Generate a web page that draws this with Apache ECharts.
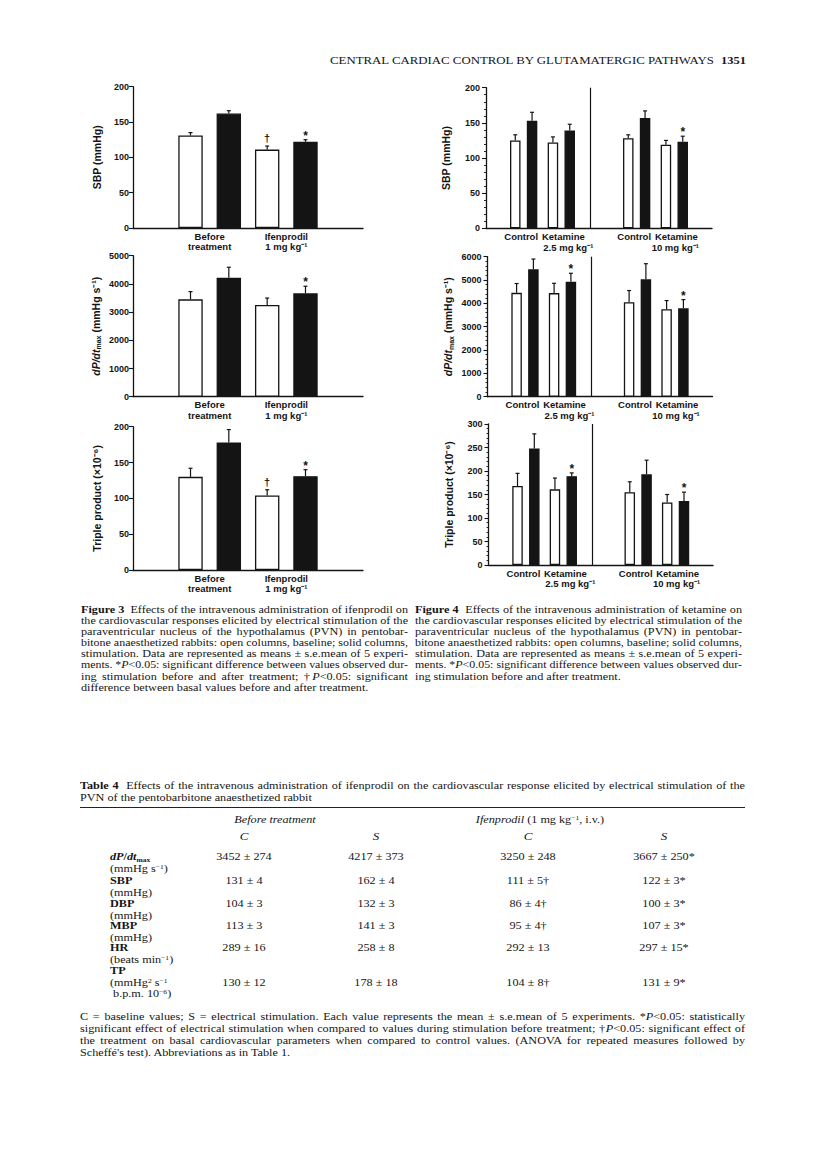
<!DOCTYPE html>
<html><head><meta charset="utf-8">
<script src="https://cdn.jsdelivr.net/npm/echarts/dist/echarts.min.js"></script>
<style>
html,body{margin:0;padding:0;background:#fff;}
#page{position:relative;width:816px;height:1171px;overflow:hidden;background:#fff;font-family:"Liberation Serif","DejaVu Serif",serif;color:#151515;}
#chart{position:absolute;left:0;top:0;width:816px;height:1171px;}
.t{position:absolute;white-space:nowrap;}
.j{position:absolute;white-space:normal;text-align:justify;text-align-last:justify;}
sup.s,sub.s{font-size:0.62em;line-height:0;}
sup.s{vertical-align:0.5em;}
sub.s{vertical-align:-0.2em;}
</style></head>
<body><div id="page"><div id="chart"></div></div>
<script>
// ---------------- DATA ----------------
const fig3Groups = ['Before\ntreatment', 'Ifenprodil\n1 mg kg⁻¹'];
const fig3SbpBase = [131, 111], fig3SbpBaseSem = [4, 5], fig3SbpBaseMark = ['', '†'];
const fig3SbpStim = [162, 122], fig3SbpStimSem = [4, 3], fig3SbpStimMark = ['', '*'];
const fig3DpdtBase = [3452, 3250], fig3DpdtBaseSem = [274, 248], fig3DpdtBaseMark = ['', ''];
const fig3DpdtStim = [4217, 3667], fig3DpdtStimSem = [373, 250], fig3DpdtStimMark = ['', '*'];
const fig3TpBase = [130, 104], fig3TpBaseSem = [12, 8], fig3TpBaseMark = ['', '†'];
const fig3TpStim = [178, 131], fig3TpStimSem = [18, 9], fig3TpStimMark = ['', '*'];

const fig4Groups = ['Control', 'Ketamine\n2.5 mg kg⁻¹', 'Control', 'Ketamine\n10 mg kg⁻¹'];
const fig4SbpBase = [125, 122, 128, 119], fig4SbpBaseSem = [8, 8, 5, 6], fig4SbpBaseMark = ['', '', '', ''];
const fig4SbpStim = [153, 139, 157, 123], fig4SbpStimSem = [12, 9, 10, 8], fig4SbpStimMark = ['', '', '', '*'];
const fig4DpdtBase = [4450, 4440, 4050, 3750], fig4DpdtBaseSem = [400, 420, 500, 370], fig4DpdtBaseMark = ['', '', '', ''];
const fig4DpdtStim = [5460, 4930, 5030, 3790], fig4DpdtStimSem = [440, 360, 670, 370], fig4DpdtStimMark = ['', '*', '', '*'];
const fig4TpBase = [168, 161, 155, 133], fig4TpBaseSem = [27, 24, 22, 17], fig4TpBaseMark = ['', '', '', ''];
const fig4TpStim = [248, 189, 193, 136], fig4TpStimSem = [31, 7, 30, 19], fig4TpStimMark = ['', '*', '', '*'];

// Table 4 (ifenprodil): DBP, MBP, HR rows [mean, sem, mark] for C, S, C, S
const tableDbp = [[104, 3, ''], [132, 3, ''], [86, 4, '†'], [100, 3, '*']];
const tableMbp = [[113, 3, ''], [141, 3, ''], [95, 4, '†'], [107, 3, '*']];
const tableHr = [[289, 16, ''], [258, 8, ''], [292, 13, ''], [297, 15, '*']];

// ---------------- CHARTS ----------------
const SANS = '"Liberation Sans", Arial, Helvetica, sans-serif';
const INK = '#141414';
const grids = [], xAxes = [], yAxes = [], series = [];
const lblBase = {fontFamily: SANS, fontWeight: 'bold', fontSize: 9.5, lineHeight: 10.5, color: INK};

function addPanel(cfg) {
  const gi = grids.length;
  grids.push(Object.assign({containLabel: false, outerBoundsMode: 'none'}, cfg.grid));
  const cats = [''], baseD = ['-'], stimD = ['-'], idx = [];
  cfg.groups.forEach((g, i) => {
    if (cfg.divider && i === cfg.groups.length / 2) { cats.push(''); baseD.push('-'); stimD.push('-'); }
    idx.push(cats.length);
    cats.push(g); baseD.push(cfg.base[i]); stimD.push(cfg.stim[i]);
  });
  cats.push(''); baseD.push('-'); stimD.push('-');
  const dividerPos = cfg.divider ? (cats.length - 1) / 2 : null;

  const axisLabel = {interval: 0, color: INK, fontFamily: SANS, fontWeight: 'bold', fontSize: 9.5, lineHeight: 10.5, margin: 3};
  if (cfg.divider) {
    axisLabel.formatter = function (v, i) {
      if (!v) return '';
      if (v.indexOf('\n') < 0) return '{c|' + v + '}';
      const p = v.split('\n');
      return '{k|' + p[0] + '}\n' + (i < dividerPos ? '{d|' : '{e|') + p[1] + '}';
    };
    axisLabel.rich = {
      c: Object.assign({}, lblBase, {padding: [0, 5, 0, 0]}),
      k: Object.assign({}, lblBase, {padding: [0, 0, 0, 4]}),
      d: Object.assign({}, lblBase, {padding: [0, 0, 0, 14]}),
      e: Object.assign({}, lblBase, {padding: [0, 0, 0, 2]})
    };
  }
  xAxes.push({
    gridIndex: gi, type: 'category', data: cats, boundaryGap: false,
    axisLine: {show: true, lineStyle: {color: INK, width: 1.3}},
    axisTick: {show: false}, splitLine: {show: false}, axisLabel: axisLabel
  });
  yAxes.push({
    gridIndex: gi, type: 'value', min: 0, max: cfg.max, interval: cfg.interval,
    axisLine: {show: true, lineStyle: {color: INK, width: 1.3}},
    axisTick: {show: true, length: 4, lineStyle: {color: INK, width: 1.1}},
    minorTick: {show: !!cfg.minor, splitNumber: 5, length: 2, lineStyle: {color: INK, width: 0.9}},
    splitLine: {show: false},
    axisLabel: {color: INK, fontFamily: SANS, fontWeight: 'bold', fontSize: 9, margin: cfg.labelMargin || 4,
      formatter: v => String(v)},
    name: cfg.name, nameLocation: 'middle', nameRotate: 90, nameGap: cfg.nameGap,
    nameTextStyle: {color: INK, fontFamily: SANS, fontWeight: 'bold', fontSize: 10.5,
      rich: {
        i: {fontFamily: SANS, fontWeight: 'bold', fontStyle: 'italic', fontSize: 10.5, color: INK},
        s: {fontFamily: SANS, fontWeight: 'bold', fontSize: 7, color: INK, verticalAlign: 'bottom', lineHeight: 13},
        n: {fontFamily: SANS, fontWeight: 'bold', fontSize: 10.5, color: INK}
      }}
  });
  const w = cfg.barWidth, g = cfg.barGap;
  const off = w * (1 + g) / 2;
  const common = {type: 'bar', xAxisIndex: gi, yAxisIndex: gi, barWidth: w, barGap: (g * 100) + '%', animation: false, silent: true};
  const baseSeries = Object.assign({}, common, {data: baseD, itemStyle: {color: '#ffffff', borderColor: INK, borderWidth: 1.3}});
  if (dividerPos !== null) {
    baseSeries.markLine = {silent: true, symbol: ['none', 'none'], label: {show: false},
      lineStyle: {color: INK, width: 1.2, type: 'solid'}, data: [{xAxis: dividerPos}], animation: false};
  }
  series.push(baseSeries);
  series.push(Object.assign({}, common, {data: stimD, itemStyle: {color: INK, borderColor: INK, borderWidth: 1.3}}));

  const items = [];
  cfg.groups.forEach((gname, i) => {
    items.push({pos: idx[i], mean: cfg.base[i], sem: cfg.baseSem[i], off: -off, mark: cfg.baseMark[i]});
    items.push({pos: idx[i], mean: cfg.stim[i], sem: cfg.stimSem[i], off: off, mark: cfg.stimMark[i]});
  });
  series.push({
    type: 'custom', xAxisIndex: gi, yAxisIndex: gi, animation: false, silent: true, z: 5,
    data: items.map(it => [it.pos, it.mean + it.sem]),
    encode: {x: 0, y: 1},
    renderItem: function (params, api) {
      const it = items[params.dataIndex];
      const b = api.coord([it.pos, it.mean]);
      const t = api.coord([it.pos, it.mean + it.sem]);
      const x = b[0] + it.off;
      const ch = [
        {type: 'line', shape: {x1: x, y1: b[1], x2: x, y2: t[1]}, style: {stroke: INK, lineWidth: 1.2}},
        {type: 'line', shape: {x1: x - 2, y1: t[1], x2: x + 2, y2: t[1]}, style: {stroke: INK, lineWidth: 1.2}}
      ];
      if (it.mark) {
        ch.push({type: 'text', style: {text: it.mark, x: x, y: t[1] - (it.mark === '*' ? 4 : 8),
          align: 'center', verticalAlign: 'middle', fill: INK,
          font: 'bold ' + (it.mark === '*' ? 12 : 11) + 'px ' + SANS}});
      }
      return {type: 'group', children: ch};
    }
  });
}

const dpdtName = '{i|dP/dt}{s|max}{n| (mmHg s⁻¹)}';
// Figure 3
addPanel({grid: {left: 133, top: 86.7, width: 230, height: 141.3}, max: 200, interval: 50, name: 'SBP (mmHg)', nameGap: 31,
  groups: fig3Groups, base: fig3SbpBase, baseSem: fig3SbpBaseSem, baseMark: fig3SbpBaseMark,
  stim: fig3SbpStim, stimSem: fig3SbpStimSem, stimMark: fig3SbpStimMark, barWidth: 24.4, barGap: 0.57});
addPanel({grid: {left: 133, top: 255.7, width: 230, height: 141}, max: 5000, interval: 1000, name: dpdtName, nameGap: 31,
  groups: fig3Groups, base: fig3DpdtBase, baseSem: fig3DpdtBaseSem, baseMark: fig3DpdtBaseMark,
  stim: fig3DpdtStim, stimSem: fig3DpdtStimSem, stimMark: fig3DpdtStimMark, barWidth: 24.4, barGap: 0.57});
addPanel({grid: {left: 133, top: 426.7, width: 230, height: 143.3}, max: 200, interval: 50, name: 'Triple product (×10⁻⁶)', nameGap: 31,
  groups: fig3Groups, base: fig3TpBase, baseSem: fig3TpBaseSem, baseMark: fig3TpBaseMark,
  stim: fig3TpStim, stimSem: fig3TpStimSem, stimMark: fig3TpStimMark, barWidth: 24.4, barGap: 0.57});
// Figure 4
addPanel({grid: {left: 486, top: 87.7, width: 226, height: 140.6}, max: 200, interval: 50, name: 'SBP (mmHg)', nameGap: 35, minor: true, divider: true, labelMargin: 6,
  groups: fig4Groups, base: fig4SbpBase, baseSem: fig4SbpBaseSem, baseMark: fig4SbpBaseMark,
  stim: fig4SbpStim, stimSem: fig4SbpStimSem, stimMark: fig4SbpStimMark, barWidth: 10.5, barGap: 0.6});
addPanel({grid: {left: 487.5, top: 256.7, width: 225, height: 140}, max: 6000, interval: 1000, name: dpdtName, nameGap: 33, minor: true, divider: true, labelMargin: 6,
  groups: fig4Groups, base: fig4DpdtBase, baseSem: fig4DpdtBaseSem, baseMark: fig4DpdtBaseMark,
  stim: fig4DpdtStim, stimSem: fig4DpdtStimSem, stimMark: fig4DpdtStimMark, barWidth: 10.5, barGap: 0.6});
addPanel({grid: {left: 488.5, top: 424, width: 224.5, height: 141}, max: 300, interval: 50, name: 'Triple product (×10⁻⁶)', nameGap: 34, minor: true, divider: true, labelMargin: 6,
  groups: fig4Groups, base: fig4TpBase, baseSem: fig4TpBaseSem, baseMark: fig4TpBaseMark,
  stim: fig4TpStim, stimSem: fig4TpStimSem, stimMark: fig4TpStimMark, barWidth: 10.5, barGap: 0.6});

const chart = echarts.init(document.getElementById('chart'), null, {renderer: 'svg', width: 816, height: 1171});
chart.setOption({animation: false, backgroundColor: 'transparent', grid: grids, xAxis: xAxes, yAxis: yAxes, series: series});

// ---------------- TEXT (header, captions, table) ----------------
const page = document.getElementById('page');
const SY = 0.83; // the printed text is wider than it is tall
function el(html, cls, size, yc) {
  const d = document.createElement('div');
  d.className = cls;
  d.innerHTML = html;
  d.style.fontSize = size + 'px';
  d.style.lineHeight = size + 'px';
  d.style.top = (yc - 0.5 * size) + 'px';
  page.appendChild(d);
  return d;
}
function L(html, x, yc, size) { const d = el(html, 't', size, yc); d.style.left = x + 'px'; d.style.transform = 'scaleY(' + SY + ')'; return d; }
function C(html, xc, yc, size) { const d = el(html, 't', size, yc); d.style.left = xc + 'px'; d.style.transform = 'translateX(-50%) scaleY(' + SY + ')'; return d; }
function J(html, x, yc, w, size) {
  const d = el(html, 't', size, yc); d.style.left = x + 'px';
  const nat = d.getBoundingClientRect().width;
  if (nat <= w) { d.className = 'j'; d.style.width = w + 'px'; d.style.height = size + 'px'; d.style.transform = 'scaleY(' + SY + ')'; }
  else { d.style.transformOrigin = '0 50%'; d.style.transform = 'scale(' + (w / nat) + ',' + SY + ')'; }
  return d;
}
function fitW(d, w) { const nat = d.getBoundingClientRect().width; d.style.transformOrigin = '0 50%'; d.style.transform = 'scale(' + (w / nat) + ',' + SY + ')'; }

// running header
const hd = L('CENTRAL CARDIAC CONTROL BY GLUTAMATERGIC PATHWAYS', 330, 61, 12); fitW(hd, 384);
L('<b>1351</b>', 721, 61, 12.5);

// captions
const S = 12.2, capLH = 11.1;
const fig3Cap = [
  '<b>Figure 3</b>&nbsp; Effects of the intravenous administration of ifenprodil on',
  'the cardiovascular responses elicited by electrical stimulation of the',
  'paraventricular nucleus of the hypothalamus (PVN) in pentobar-',
  'bitone anaesthetized rabbits: open columns, baseline; solid columns,',
  'stimulation. Data are represented as means ± s.e.mean of 5 experi-',
  'ments. *<i>P</i>&lt;0.05: significant difference between values observed dur-',
  'ing stimulation before and after treatment; †<i>P</i>&lt;0.05: significant',
  'difference between basal values before and after treatment.'
];
const fig4Cap = [
  '<b>Figure 4</b>&nbsp; Effects of the intravenous administration of ketamine on',
  'the cardiovascular responses elicited by electrical stimulation of the',
  'paraventricular nucleus of the hypothalamus (PVN) in pentobar-',
  'bitone anaesthetized rabbits: open columns, baseline; solid columns,',
  'stimulation. Data are represented as means ± s.e.mean of 5 experi-',
  'ments. *<i>P</i>&lt;0.05: significant difference between values observed dur-',
  'ing stimulation before and after treatment.'
];
fig3Cap.forEach((s, i) => { const y = 610 + i * capLH; if (i < fig3Cap.length - 1) J(s, 81, y, 327, S); else L(s, 81, y, S); });
fig4Cap.forEach((s, i) => { const y = 610 + i * capLH; if (i < fig4Cap.length - 1) J(s, 415, y, 327, S); else L(s, 415, y, S); });

// table title
J('<b>Table 4</b>&nbsp; Effects of the intravenous administration of ifenprodil on the cardiovascular response elicited by electrical stimulation of the', 80, 786, 665, S);
L('PVN of the pentobarbitone anaesthetized rabbit', 80, 798, S);
const rule = document.createElement('div');
rule.style.cssText = 'position:absolute;left:80px;top:806.5px;width:665px;height:1.2px;background:#222;';
page.appendChild(rule);

C('<i>Before treatment</i>', 275, 820, S);
C('<i>Ifenprodil</i> (1 mg kg<sup class="s">−1</sup>, i.v.)', 540, 820, S);
const colX = [244, 376, 528, 664];
['C', 'S', 'C', 'S'].forEach((s, i) => C('<i>' + s + '</i>', colX[i], 836, S + 0.8));

function fmt(m, s, mark) { return m + ' ± ' + s + (mark || ''); }
const cols4 = (b, bs, bm, s, ss, sm) => [fmt(b[0], bs[0], bm[0]), fmt(s[0], ss[0], sm[0]), fmt(b[1], bs[1], bm[1]), fmt(s[1], ss[1], sm[1])];
const rows = [
  {lab: '<b><i>dP</i>/<i>dt</i><sub class="s">max</sub></b>', units: ['(mmHg s<sup class="s">−1</sup>)'], y: 857,
    vals: cols4(fig3DpdtBase, fig3DpdtBaseSem, fig3DpdtBaseMark, fig3DpdtStim, fig3DpdtStimSem, fig3DpdtStimMark)},
  {lab: '<b>SBP</b>', units: ['(mmHg)'], y: 881,
    vals: cols4(fig3SbpBase, fig3SbpBaseSem, fig3SbpBaseMark, fig3SbpStim, fig3SbpStimSem, fig3SbpStimMark)},
  {lab: '<b>DBP</b>', units: ['(mmHg)'], y: 904, vals: tableDbp.map(r => fmt(r[0], r[1], r[2]))},
  {lab: '<b>MBP</b>', units: ['(mmHg)'], y: 926, vals: tableMbp.map(r => fmt(r[0], r[1], r[2]))},
  {lab: '<b>HR</b>', units: ['(beats min<sup class="s">−1</sup>)'], y: 948, vals: tableHr.map(r => fmt(r[0], r[1], r[2]))},
  {lab: '<b>TP</b>', units: ['(mmHg<sup class="s">2</sup> s<sup class="s">−1</sup>', '&nbsp;b.p.m. 10<sup class="s">−6</sup>)'], y: 971, valOffset: 1,
    vals: cols4(fig3TpBase, fig3TpBaseSem, fig3TpBaseMark, fig3TpStim, fig3TpStimSem, fig3TpStimMark)}
];
rows.forEach(r => {
  L(r.lab, 110, r.y, S);
  r.units.forEach((u, k) => L(u, 110, r.y + 11.6 * (k + 1), S));
  const vy = r.y + 11.6 * (r.valOffset || 0);
  r.vals.forEach((v, i) => C(v, colX[i], vy, S));
});

// footnote
const foot = [
  'C = baseline values; S = electrical stimulation. Each value represents the mean ± s.e.mean of 5 experiments. *<i>P</i>&lt;0.05: statistically',
  'significant effect of electrical stimulation when compared to values during stimulation before treatment; †<i>P</i>&lt;0.05: significant effect of',
  'the treatment on basal cardiovascular parameters when compared to control values. (ANOVA for repeated measures followed by',
  'Scheffé\'s test). Abbreviations as in Table 1.'
];
foot.forEach((s, i) => { const y = 1017 + i * 12; if (i < foot.length - 1) J(s, 80, y, 665, S); else L(s, 80, y, S); });
</script></body></html>
